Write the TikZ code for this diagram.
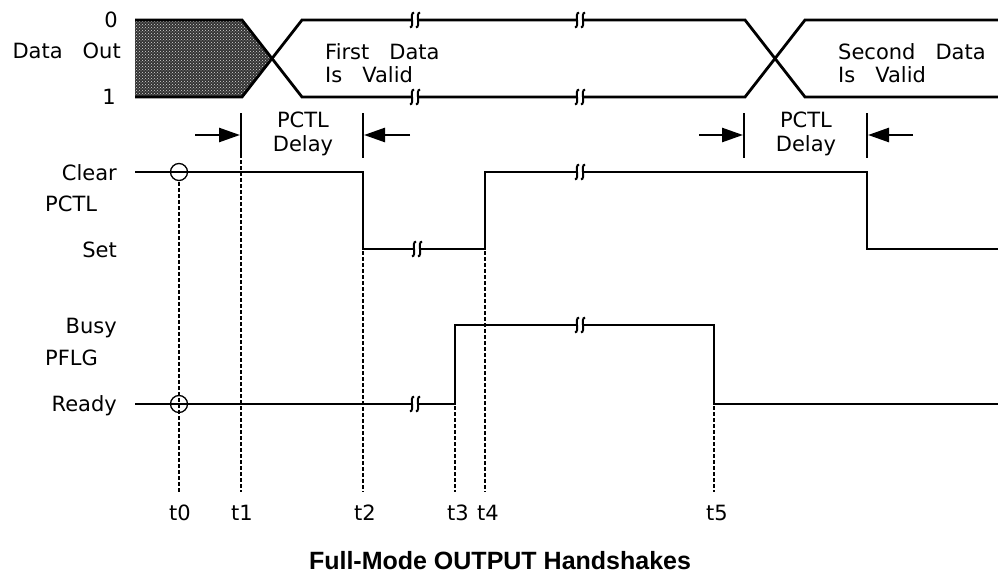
\documentclass[tikz,border=0pt]{standalone}
\usepackage{fontspec}
\setmainfont[WordSpace=3]{DejaVu Sans}
\newfontfamily\titlefont{Liberation Sans}
\usetikzlibrary{arrows.meta,patterns}
\begin{document}
\begin{tikzpicture}[x=1pt,y=-1pt,
  sig/.style={line width=2.8pt,line join=miter},
  dots/.style={line width=2.6pt,dash pattern=on 3.5pt off 2.5pt},
  bar/.style={line width=2.8pt},
  darr/.style={line width=2.6pt,-{Triangle[length=21pt,width=14pt]}},
  lbl/.style={inner sep=0pt,font=\fontsize{21}{23.5}\selectfont},
  brk/.pic={
    \fill[white] (-3.5,-5) rectangle (3.5,5);
    \draw[line width=2pt] (-1,-7.5) .. controls (-6,-7) and (0,7) .. (-5,7.5);
    \draw[line width=2pt] (5,-7.5) .. controls (0,-7) and (6,7) .. (1,7.5);
  }]
\useasboundingbox (0,0) rectangle (998,578);

% ---------- Data Out ----------
\fill[black!80] (135,20) -- (242,20) -- (272,58.5) -- (242,97) -- (135,97) -- cycle;
\fill[pattern=crosshatch dots,pattern color=white!85!black] (135,20) -- (242,20) -- (272,58.5) -- (242,97) -- (135,97) -- cycle;
\draw[sig] (135,20) -- (242,20) -- (302,97) -- (745,97) -- (805,20) -- (998,20);
\draw[sig] (135,97) -- (242,97) -- (302,20) -- (745,20) -- (805,97) -- (998,97);
\pic at (415,20) {brk};
\pic at (580,20) {brk};
\pic at (415,97) {brk};
\pic at (580,97) {brk};

\node[lbl,anchor=base east] (zero) at (118,28) {0};
\node[lbl,anchor=base east] (dout) at (121,59) {Data Out};
\node[lbl,anchor=base east] (one) at (116,104) {1};
\node[lbl,anchor=west,align=left] (fdv) at (325,63) {First Data\\Is Valid};
\node[lbl,anchor=west,align=left] (sdv) at (838,63) {Second Data\\Is Valid};

% ---------- PCTL delay markers ----------
\coordinate (b1t) at (241,113); \coordinate (b1b) at (241,158);
\coordinate (b2t) at (363,113); \coordinate (b2b) at (363,158);
\coordinate (b3t) at (744,113); \coordinate (b3b) at (744,158);
\coordinate (b4t) at (867,113); \coordinate (b4b) at (867,158);
\draw[bar] (b1t) -- (b1b);
\draw[bar] (b2t) -- (b2b);
\draw[bar] (b3t) -- (b3b);
\draw[bar] (b4t) -- (b4b);
\coordinate (a1s) at (195,135); \coordinate (a1e) at (240,135);
\coordinate (a2s) at (410,135); \coordinate (a2e) at (364,135);
\coordinate (a3s) at (699,135); \coordinate (a3e) at (743,135);
\coordinate (a4s) at (913,135); \coordinate (a4e) at (868,135);
\draw[darr] (a1s) -- (a1e);
\draw[darr] (a2s) -- (a2e);
\draw[darr] (a3s) -- (a3e);
\draw[darr] (a4s) -- (a4e);
\node[lbl,align=center] (pd1) at (303,134) {PCTL\\Delay};
\node[lbl,align=center] (pd2) at (806,134) {PCTL\\Delay};

% ---------- PCTL ----------
\draw[sig] (135,172) -- (363,172) -- (363,249) -- (485,249) -- (485,172) -- (867,172) -- (867,249) -- (998,249);
\pic at (417,249) {brk};
\pic at (580,172) {brk};
\node[lbl,anchor=base east] (clr) at (117,180) {Clear};
\node[lbl,anchor=base west] (pctl) at (45,211) {PCTL};
\node[lbl,anchor=base east] (set) at (117,257) {Set};

% ---------- PFLG ----------
\draw[sig] (135,404) -- (455,404) -- (455,325) -- (714,325) -- (714,404) -- (998,404);
\pic at (415,404) {brk};
\pic at (580,325) {brk};
\node[lbl,anchor=base east] (busy) at (117,333) {Busy};
\node[lbl,anchor=base west] (pflg) at (45,365) {PFLG};
\node[lbl,anchor=base east] (rdy) at (117,411) {Ready};

% ---------- circles ----------
\draw[line width=1.3pt] (179,172) circle (8.5);
\draw[line width=1.3pt] (179,404) circle (8.5);

% ---------- time markers ----------
\draw[dots] (179,182) -- (179,492);
\draw[dots] (241,160) -- (241,492);
\draw[dots] (363,251) -- (363,492);
\draw[dots] (455,406) -- (455,492);
\draw[dots] (485,251) -- (485,492);
\draw[dots] (714,406) -- (714,492);
\node[lbl,anchor=base] (t0) at (180,520) {t0};
\node[lbl,anchor=base] (t1) at (242,520) {t1};
\node[lbl,anchor=base] (t2) at (365,520) {t2};
\node[lbl,anchor=base] (t3) at (458,520) {t3};
\node[lbl,anchor=base] (t4) at (488,520) {t4};
\node[lbl,anchor=base] (t5) at (717,520) {t5};

% ---------- title ----------
\node[inner sep=0pt,anchor=base,font=\titlefont\bfseries\fontsize{25}{29}\selectfont] (title) at (500,569) {Full-Mode OUTPUT Handshakes};
\end{tikzpicture}
\end{document}
